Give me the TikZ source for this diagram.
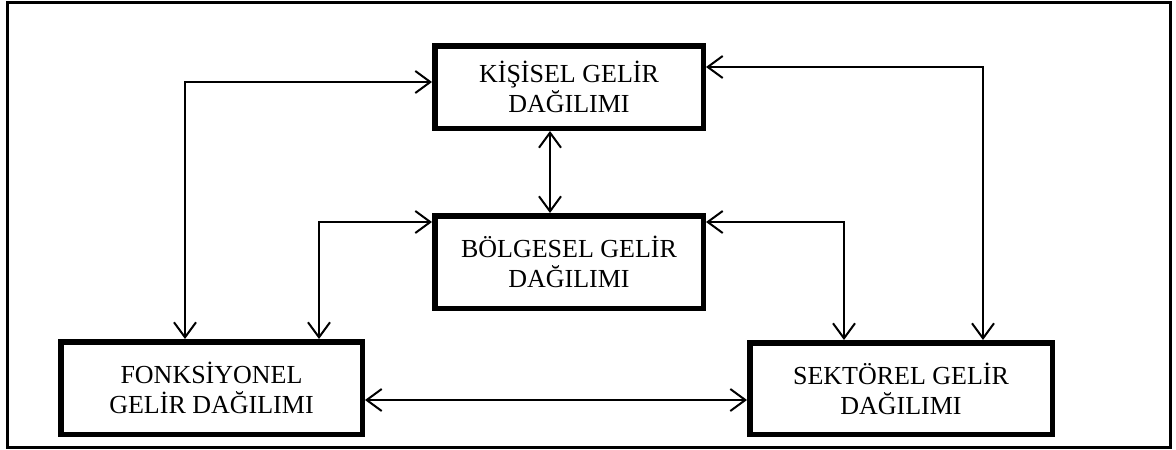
\documentclass[tikz,border=0pt]{standalone}
\usepackage{fontspec}
\setmainfont{Liberation Serif}
\usetikzlibrary{arrows.meta}
\tikzset{
  box/.style={draw, line width=5.5pt, inner sep=0pt, align=center,
    font=\fontsize{26}{30}\selectfont},
  conn/.style={line width=2pt, {Straight Barb[length=15pt,width=22pt]}-{Straight Barb[length=15pt,width=22pt]}},
  frame/.style={line width=3pt}
}
\begin{document}
\begin{tikzpicture}[x=1pt,y=-1pt]
\useasboundingbox (0,0) rectangle (1176,450);
\draw[frame] (7,2) rectangle (1170,447);
\node[box, minimum width=268.5pt, minimum height=82.5pt] (kis) at (569,87) {KİŞİSEL GELİR\\DAĞILIMI};
\node[box, minimum width=268.5pt, minimum height=92.5pt] (bol) at (569,262) {BÖLGESEL GELİR\\DAĞILIMI};
\node[box, minimum width=301.5pt, minimum height=92.5pt] (fonk) at (211.5,388) {FONKSİYONEL\\GELİR DAĞILIMI};
\node[box, minimum width=302.5pt, minimum height=91.5pt] (sekt) at (901,388.5) {SEKTÖREL GELİR\\DAĞILIMI};
\coordinate (c1) at (185,82);
\coordinate (c2) at (319,222);
\coordinate (c3) at (983,67);
\coordinate (c4) at (844,222);
\coordinate (c5) at (550,0);
\coordinate (c6) at (0,400);
\draw[conn] (fonk.north -| c1) |- (kis.west |- c1);
\draw[conn] (fonk.north -| c2) |- (bol.west |- c2);
\draw[conn] (sekt.north -| c3) |- (kis.east |- c3);
\draw[conn] (sekt.north -| c4) |- (bol.east |- c4);
\draw[conn] (kis.south -| c5) -- (bol.north -| c5);
\draw[conn] (fonk.east |- c6) -- (sekt.west |- c6);
\end{tikzpicture}
\end{document}
